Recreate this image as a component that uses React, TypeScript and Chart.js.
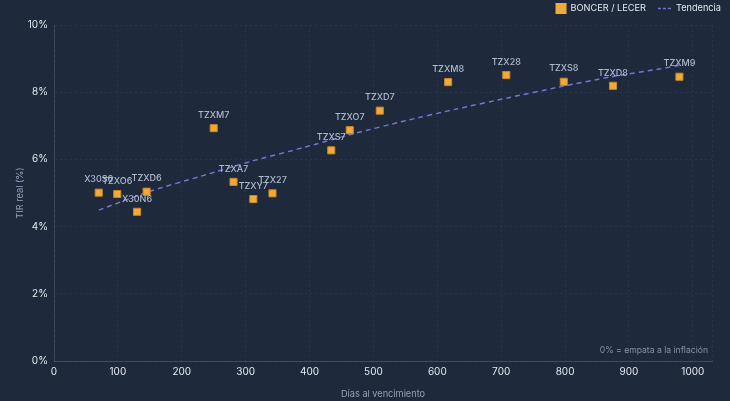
import React, { useEffect, useRef } from "react";
import { Chart, registerables } from "chart.js";

Chart.register(...registerables);

// Bonos BONCER / LECER: días al vencimiento vs TIR real
const tickers = [
  "X30S6", "TZXO6", "X30N6", "TZXD6", "TZXM7", "TZXA7", "TZXY7", "TZX27",
  "TZXS7", "TZXO7", "TZXD7", "TZXM8", "TZX28", "TZXS8", "TZXD8", "TZXM9",
];
const days = [70, 99, 130, 145, 250, 281, 312, 342, 434, 463, 510, 617, 708, 798, 875, 979];
const realYield = [5.01, 4.97, 4.44, 5.04, 6.93, 5.33, 4.82, 4.99, 6.27, 6.87, 7.45, 8.3, 8.51, 8.31, 8.19, 8.46];

// Curva de tendencia
const trendDays = [70, 150, 230, 310, 390, 470, 550, 630, 710, 790, 870, 950, 979];
const trendYield = [4.49, 5.05, 5.5, 5.95, 6.35, 6.77, 7.15, 7.5, 7.83, 8.15, 8.45, 8.7, 8.8];

const xTicks = [0, 100, 200, 300, 400, 500, 600, 700, 800, 900, 1000];
const xMax = 1030;
const yTicks = [0, 2, 4, 6, 8, 10];

const FONT = "Inter, 'Noto Sans', 'DejaVu Sans', sans-serif";
const BG = "#1e293b";
const ORANGE = "#f3ab38";
const PURPLE = "#7b71d6";

// Etiquetas de cada bono, nota al pie y leyenda
const overlay = {
  id: "overlay",
  afterDatasetsDraw(chart: any) {
    const meta = chart.getDatasetMeta(0);
    const ctx = chart.ctx;
    ctx.save();
    ctx.font = `500 9px ${FONT}`;
    ctx.fillStyle = "#aebbcf";
    ctx.textAlign = "center";
    ctx.textBaseline = "middle";
    meta.data.forEach((el: any, i: number) => {
      ctx.fillText(tickers[i], el.x, el.y - 13);
    });

    const { right, bottom } = chart.chartArea;
    ctx.font = `8.6px ${FONT}`;
    ctx.fillStyle = "#8794a8";
    ctx.textAlign = "right";
    ctx.fillText("0% = empata a la inflación", right - 4, bottom - 11);

    // leyenda alineada a la derecha
    const ds = chart.data.datasets;
    ctx.font = `9.2px ${FONT}`;
    ctx.fillStyle = "#e2e8f0";
    ctx.textAlign = "left";
    const cy = 8.5;
    let x = 721 - ctx.measureText(ds[1].label).width;
    ctx.fillText(ds[1].label, x, cy);
    ctx.strokeStyle = ds[1].borderColor;
    ctx.lineWidth = 1.5;
    ctx.setLineDash([3, 2]);
    ctx.beginPath();
    ctx.moveTo(x - 18, cy);
    ctx.lineTo(x - 5, cy);
    ctx.stroke();
    ctx.setLineDash([]);
    const w0 = ctx.measureText(ds[0].label).width;
    x = x - 18 - 12 - w0;
    ctx.fillText(ds[0].label, x, cy);
    ctx.fillStyle = ds[0].backgroundColor;
    ctx.fillRect(x - 15, cy - 5.5, 11, 11);
    ctx.restore();
  },
};

export default function App() {
  const canvasRef = useRef<HTMLCanvasElement | null>(null);

  useEffect(() => {
    if (!canvasRef.current) return;
    const chart = new Chart(canvasRef.current, {
      data: {
        datasets: [
          {
            type: "scatter",
            label: "BONCER / LECER",
            data: days.map((d, i) => ({ x: d, y: realYield[i] })),
            backgroundColor: ORANGE,
            borderColor: "#c98a26",
            borderWidth: 1,
            pointStyle: "rect",
            pointRadius: 5,
            pointHoverRadius: 5,
          },
          {
            type: "line",
            label: "Tendencia",
            data: trendDays.map((d, i) => ({ x: d, y: trendYield[i] })),
            borderColor: PURPLE,
            backgroundColor: PURPLE,
            borderWidth: 1.5,
            borderDash: [5, 4],
            pointRadius: 0,
            fill: false,
            tension: 0.2,
          },
        ],
      } as any,
      options: {
        animation: false,
        responsive: true,
        maintainAspectRatio: false,
        devicePixelRatio: 1,
        layout: { padding: { left: 8, right: 18, top: 25, bottom: 0 } },
        plugins: {
          legend: { display: false },
          tooltip: { enabled: false },
        },
        scales: {
          x: {
            type: "linear",
            min: 0,
            max: xMax,
            afterBuildTicks(scale: any) {
              scale.ticks = [...xTicks, xMax].map((v) => ({ value: v }));
            },
            afterFit(scale: any) {
              scale.height = 40;
            },
            ticks: {
              color: "#e2e8f0",
              padding: 5,
              autoSkip: false,
              maxRotation: 0,
              font: { family: FONT, size: 10 },
              callback: (v: any) => (xTicks.includes(Number(v)) ? String(v) : ""),
            },
            grid: { color: "rgba(148,163,184,0.10)", drawTicks: false },
            border: { display: true, color: "rgba(148,163,184,0.28)", dash: [2, 3] },
            title: {
              display: true,
              text: "Días al vencimiento",
              color: "#8fa0b8",
              font: { family: FONT, size: 9.2 },
              padding: { top: 0, bottom: 1 },
            },
          },
          y: {
            type: "linear",
            min: yTicks[0],
            max: yTicks[yTicks.length - 1],
            afterBuildTicks(scale: any) {
              scale.ticks = yTicks.map((v) => ({ value: v }));
            },
            afterFit(scale: any) {
              scale.width = 46;
            },
            ticks: {
              color: "#e2e8f0",
              padding: 6,
              font: { family: FONT, size: 10 },
              callback: (v: any) => `${v}%`,
            },
            grid: { color: "rgba(148,163,184,0.10)", drawTicks: false },
            border: { display: true, color: "rgba(148,163,184,0.22)", dash: [2, 3] },
            title: {
              display: true,
              text: "TIR real (%)",
              color: "#8fa0b8",
              font: { family: FONT, size: 9.2 },
              padding: { top: 7, bottom: 4 },
            },
          },
        },
      },
      plugins: [overlay],
    });
    return () => chart.destroy();
  }, []);

  return (
    <div
      style={{
        position: "absolute",
        left: 0,
        top: 0,
        width: 730,
        height: 401,
        background: BG,
      }}
    >
      <canvas ref={canvasRef} />
    </div>
  );
}
